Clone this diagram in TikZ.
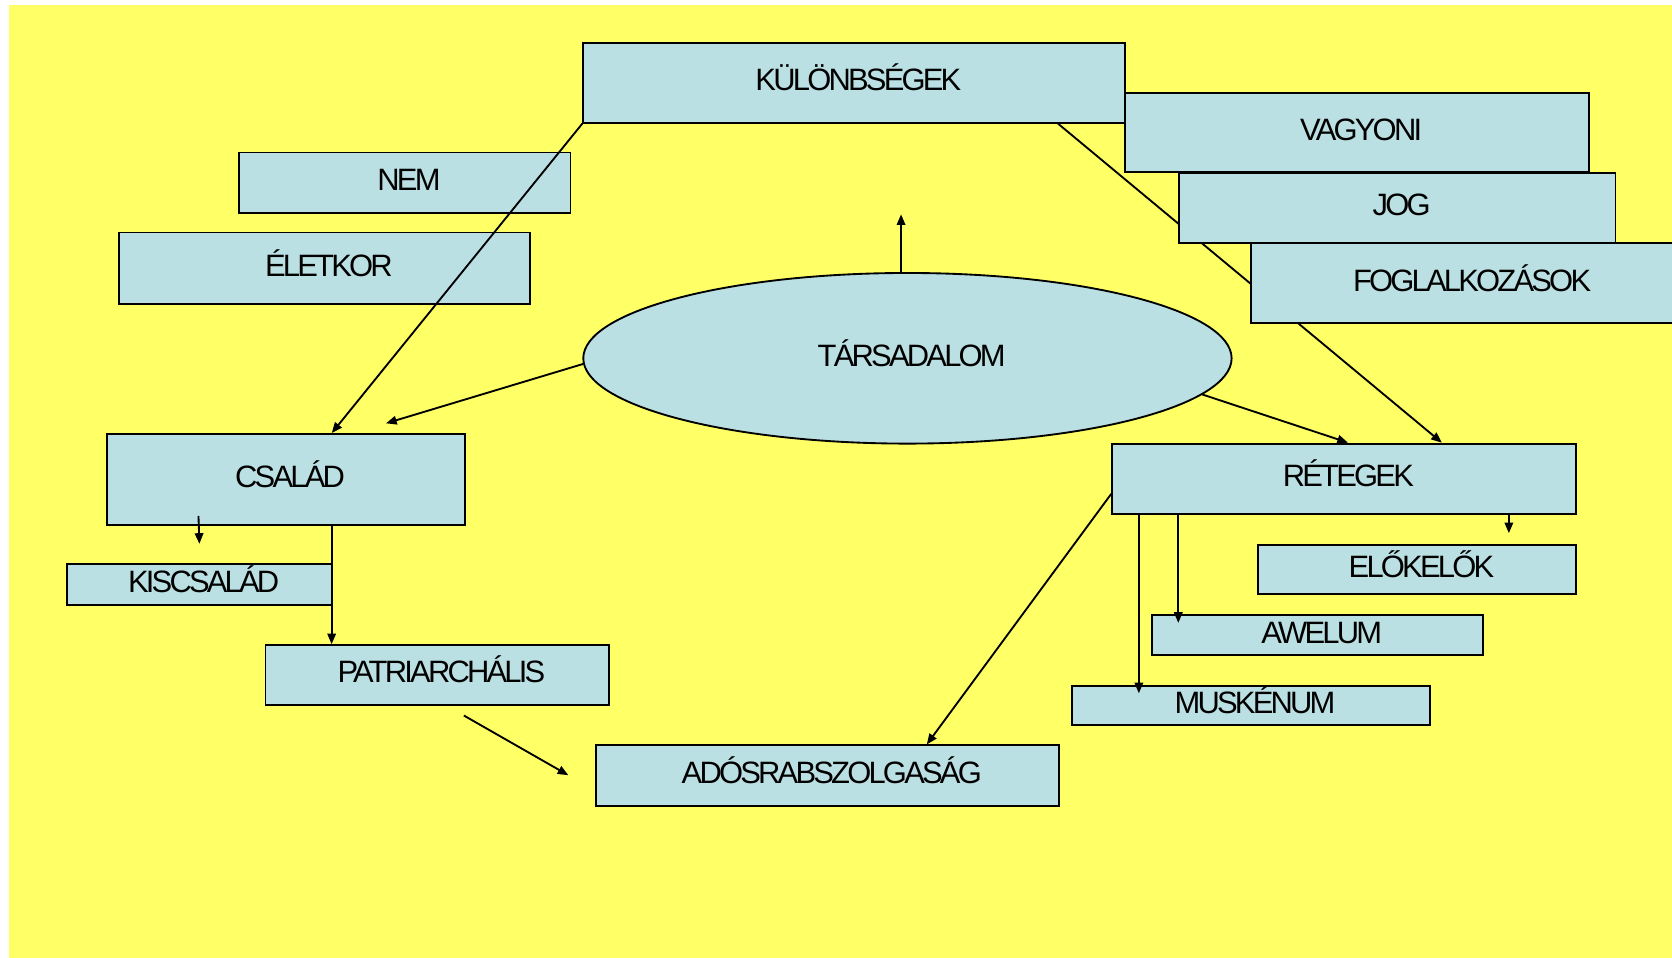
\documentclass[tikz,border=0pt]{standalone}
\usepackage{fontspec}
\newfontfamily\lblfont{Liberation Sans}[LetterSpace=-9]
\usetikzlibrary{shapes.geometric,arrows.meta,calc}
\definecolor{bgyellow}{RGB}{255,255,102}
\definecolor{boxblue}{RGB}{187,224,227}
\tikzset{
  boxnode/.style={draw=black, fill=boxblue, line width=0.035cm, rectangle, inner sep=0pt,
    font=\lblfont\fontsize{16.5pt}{18pt}\selectfont, text height=0.42cm, text depth=0.12cm},
  arr/.style={line width=0.035cm, -{Triangle[length=0.2cm,width=0.16cm]}},
}
\newcommand\placebox[6]{\node[boxnode, minimum width={(#4-#2)*0.02cm}, minimum height={(#5-#3)*0.02cm}] (#1) at ({(#2+#4)/2},{(#3+#5)/2}) {\hspace*{0.16cm}#6};}
\begin{document}
\begin{tikzpicture}[x=0.02cm,y=-0.02cm]
\useasboundingbox (0,0) rectangle (1568,897.5);
\clip (0,0) rectangle (1568,897.5);
\fill[bgyellow] (8,5) rectangle (1575,905);
% left upper boxes
\placebox{nem}{224}{143}{535}{200}{NEM}
\placebox{elet}{112}{218}{497}{285}{ÉLETKOR}
\placebox{kul}{547}{40}{1055}{115}{KÜLÖNBSÉGEK}
\placebox{csa}{100}{407}{436}{492}{CSALÁD}
\placebox{ret}{1043}{416}{1478}{482}{RÉTEGEK}
% long connectors from KÜLÖNBSÉGEK
\draw[arr] (kul.south west) -- ($(csa.north west)+(212,0)$);
\draw[arr] ($(kul.south west)+(446,0)$) -- ($(ret.north west)+(310,0)$);
% right stack
\placebox{vag}{1055}{87}{1490}{161}{VAGYONI}
\placebox{jog}{1106}{162}{1515}{228}{JOG}
\placebox{fog}{1173}{228}{1580}{303}{FOGLALKOZÁSOK}
% ellipse
\node[boxnode, ellipse, minimum width=608*0.02cm, minimum height=160*0.02cm] (tars) at (851,336) {\hspace*{0.16cm}TÁRSADALOM};
% lower boxes
\placebox{kis}{63}{529}{311}{567}{KISCSALÁD}
\placebox{pat}{249}{605}{571}{661}{PATRIARCHÁLIS}
\placebox{ado}{559}{699}{993}{756}{ADÓSRABSZOLGASÁG}
\placebox{elo}{1180}{511}{1478}{557}{ELŐKELŐK}
\placebox{awe}{1080}{577}{1391}{614}{AWELUM}
\placebox{mus}{1005}{643}{1341}{680}{MUSKÉNUM}
% free ends
\coordinate (upend) at (845,201);
\coordinate (leftend) at (362,397);
\coordinate (kisend) at (187,510);
\coordinate (patx) at (311,0);
\coordinate (adostart) at (435,671);
\coordinate (adoend) at (533,727);
\coordinate (eloend) at (1415,500);
\coordinate (awex) at (1105,0);
\coordinate (musx) at (1068,0);
% connectors from TÁRSADALOM
\draw[arr] (tars.north -| upend) -- (upend);
\draw[arr] (tars.181) -- (leftend);
\draw[arr] (tars.353) -- ($(ret.north west)+(222,0)$);
% CSALÁD
\draw[arr] ($(csa.south west)+(87,-9)$) -- (kisend);
\draw[arr] (csa.south -| patx) -- (pat.north -| patx);
\draw[arr] (adostart) -- (adoend);
% RÉTEGEK
\draw[arr] ($(ret.north west)+(0,48)$) -- ($(ado.north west)+(311,0)$);
\draw[arr] (ret.south -| eloend) -- (eloend);
\draw[arr] (ret.south -| awex) -- ($(awe.north -| awex)+(0,8)$);
\draw[arr] (ret.south -| musx) -- ($(mus.north -| musx)+(0,8)$);
\end{tikzpicture}
\end{document}
